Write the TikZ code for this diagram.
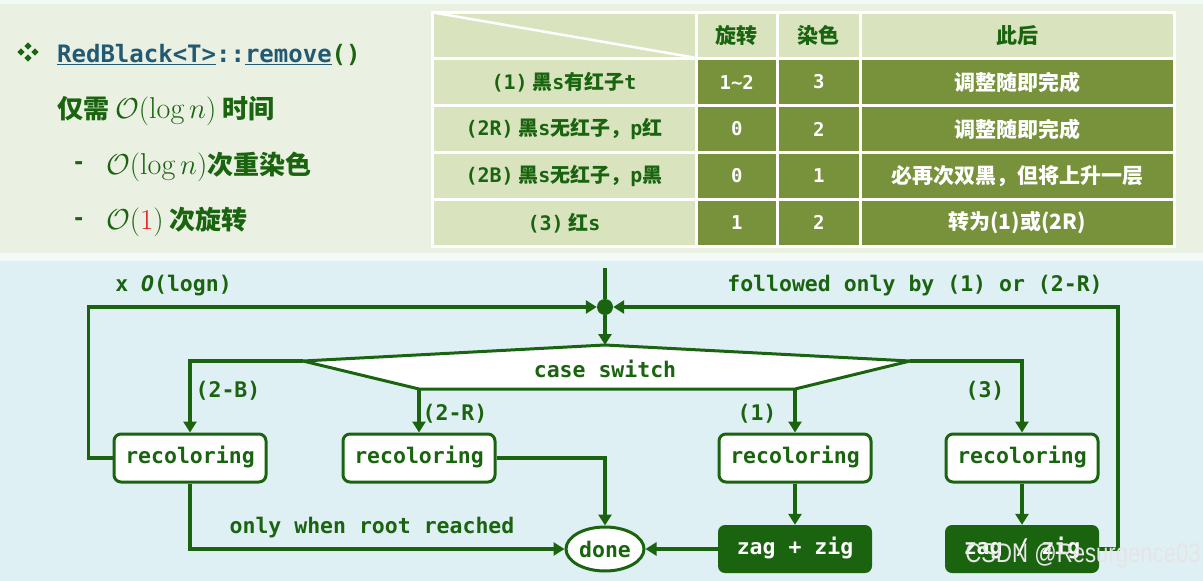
\documentclass[tikz,border=0pt]{standalone}
\usepackage{fontspec}
\setmonofont{DejaVu Sans Mono}
\newfontfamily\cjk{Noto Sans CJK SC}
\newfontfamily\wmfont{Liberation Sans}
\usetikzlibrary{arrows.meta,shapes.geometric}
\definecolor{dg}{RGB}{26,100,16}
\definecolor{tealt}{RGB}{35,90,115}
\definecolor{lol}{RGB}{217,227,190}
\definecolor{dol}{RGB}{119,146,59}
\definecolor{tbg}{RGB}{235,241,226}
\definecolor{bbg}{RGB}{223,240,245}
\definecolor{gapc}{RGB}{242,250,246}
\definecolor{redm}{RGB}{225,30,30}
\newcommand\myfs[1]{\fontsize{#1}{#1}\selectfont}
\newcommand\scmath[1]{\scalebox{1.16}{$#1$}}
\tikzset{
  ln/.style={draw=dg,line width=3.5pt},
  ar/.style={ln,-{Triangle[length=11pt,width=13pt]}},
  chart/.style={font=\ttfamily\bfseries\myfs{21.5}},
  recol/.style={chart,draw=dg,line width=3pt,fill=white,rounded corners=7pt,minimum width=152pt,minimum height=48pt,inner sep=0pt,text=dg,text height=15pt,text depth=4pt},
  zz/.style={chart,fill=dg,rounded corners=7pt,minimum width=154pt,minimum height=48pt,inner sep=0pt,text=white,text height=15pt,text depth=4pt},
  donest/.style={chart,ellipse,draw=dg,line width=3pt,fill=white,minimum width=78pt,minimum height=44pt,inner sep=0pt,text=dg},
  lbl/.style={chart,text=dg,inner sep=0pt,anchor=base},
  hd/.style={font=\cjk\bfseries\myfs{21},text=dg,inner sep=0pt},
  lc/.style={font=\cjk\bfseries\myfs{20},text=dg,inner sep=0pt},
  bd/.style={font=\ttfamily\bfseries\myfs{19},text=white,inner sep=0pt},
  bc/.style={font=\cjk\bfseries\myfs{21},text=white,inner sep=0pt},
  cellL/.style={fill=lol,draw=white,line width=3pt},
  cellD/.style={fill=dol,draw=white,line width=3pt},
  lefttxt/.style={inner sep=0pt,text=dg},
}
\begin{document}
\begin{tikzpicture}[x=1pt,y=-1pt]
\useasboundingbox (0,0) rectangle (1203,581);
% backgrounds
\fill[gapc] (0,0) rectangle (1203,581);
\fill[tbg] (0,4) rectangle (1203,253);
\fill[bbg] (0,261) rectangle (1203,581);

% ---------- left text ----------
\foreach \cx/\cy in {28/46,21/52,35/52,28/58}
  \fill[dg] (\cx,\cy-3.6) -- (\cx+3.6,\cy) -- (\cx,\cy+3.6) -- (\cx-3.6,\cy) -- cycle;
\node[anchor=base west,inner sep=0pt,font=\ttfamily\bfseries\myfs{24},text=tealt] (title) at (57,62)
  {\underline{RedBlack<T>}::\underline{remove}\textcolor{dg}{()}};
\node[anchor=base west,lefttxt,font=\cjk\bfseries\myfs{26}] (l1) at (57,118) {仅需 \scmath{\mathcal{O}(\log n)} 时间};
\node[anchor=west,lefttxt,font=\ttfamily\bfseries\myfs{22}] (d1) at (72,166) {-};
\node[anchor=base west,lefttxt,font=\cjk\bfseries\myfs{26}] (l2) at (106,174) {\scmath{\mathcal{O}(\log n)}次重染色};
\node[anchor=west,lefttxt,font=\ttfamily\bfseries\myfs{22}] (d2) at (72,222) {-};
\node[anchor=base west,lefttxt,font=\cjk\bfseries\myfs{26}] (l3) at (106,229) {\scmath{\mathcal{O}(\textcolor{redm}{1})} 次旋转};

% ---------- table ----------
\path[cellL] (432,12) rectangle (696,58.5);
\path[cellL] (696,12) rectangle (777.5,58.5);
\path[cellL] (777.5,12) rectangle (860,58.5);
\path[cellL] (860,12) rectangle (1174,58.5);
\foreach \ya/\yb in {58.5/105.5,105.5/152.5,152.5/199.5,199.5/246}{
  \path[cellL] (432,\ya) rectangle (696,\yb);
  \path[cellD] (696,\ya) rectangle (777.5,\yb);
  \path[cellD] (777.5,\ya) rectangle (860,\yb);
  \path[cellD] (860,\ya) rectangle (1174,\yb);
}
\draw[white,line width=2.5pt] (433,12.5) -- (694,57.5);
\node[hd] (h2) at (736.75,35.25) {旋转};
\node[hd] (h3) at (818.75,35.25) {染色};
\node[hd] (h4) at (1017,35.25) {此后};
\node[lc] (a1) at (564,82) {{\ttfamily (1)} 黑{\ttfamily s}有红子{\ttfamily t}};
\node[lc] (b1) at (564,129) {{\ttfamily (2R)} 黑{\ttfamily s}无红子，{\ttfamily p}红};
\node[lc] (c1) at (564,176) {{\ttfamily (2B)} 黑{\ttfamily s}无红子，{\ttfamily p}黑};
\node[lc] (e1) at (564,222.75) {{\ttfamily (3)} 红{\ttfamily s}};
\node[bd] (a2) at (736.75,82) {1\textasciitilde2};
\node[bd] (a3) at (818.75,82) {3};
\node[bc] (a4) at (1017,82) {调整随即完成};
\node[bd] (b2) at (736.75,129) {0};
\node[bd] (b3) at (818.75,129) {2};
\node[bc] (b4) at (1017,129) {调整随即完成};
\node[bd] (c2) at (736.75,176) {0};
\node[bd] (c3) at (818.75,176) {1};
\node[bc] (c4) at (1017,176) {必再次双黑，但将上升一层};
\node[bd] (e2) at (736.75,222.75) {1};
\node[bd] (e3) at (818.75,222.75) {2};
\node[bc] (e4) at (1017,222.75) {转为(1)或(2R)};

% ---------- flowchart ----------
\coordinate (jtop) at (605,268);
\node[circle,fill=dg,minimum size=16pt,inner sep=0pt] (j) at (605,307) {};
\coordinate (swL) at (303,361);
\coordinate (swT) at (605,345);
\coordinate (swR) at (910,361);
\coordinate (swBR) at (795,389);
\coordinate (swBL) at (419,389);
\filldraw[fill=white,draw=dg,line width=3pt,line join=miter] (swL) -- (swT) -- (swR) -- (swBR) -- (swBL) -- cycle;
\node[lbl] (sw) at (605,377) {case switch};

\node[recol] (r1) at (190,458) {recoloring};
\node[recol] (r2) at (419,458) {recoloring};
\node[recol] (r3) at (795,458) {recoloring};
\node[recol] (r4) at (1022,458) {recoloring};
\node[zz] (z1) at (795,549) {zag + zig};
\node[zz] (z2) at (1022,549) {zag / zig};
\node[donest] (done) at (605,549) {done};

\draw[ln] (jtop) -- (j);
\draw[ar] (j) -- (swT);
\draw[ar] (r1.west) -- ++(-24,0) |- (j);
\draw[ar] (z2.east) -- ++(19,0) |- (j);
\draw[ar] (swL) -| (r1.north);
\draw[ar] (swBL) -- (r2.north);
\draw[ar] (swBR) -- (r3.north);
\draw[ar] (swR) -| (r4.north);
\draw[ar] (r1.south) |- (done.west);
\draw[ar] (r2.east) -| (done.north);
\draw[ar] (z1.west) -- (done.east);
\draw[ar] (r3) -- (z1);
\draw[ar] (r4) -- (z2);

\node[lbl] (lx) at (173.5,291) {x \textit{O}(logn)};
\node[lbl] (lf) at (915,291) {followed only by (1) or (2-R)};
\node[lbl] (l2b) at (228,397) {(2-B)};
\node[lbl] (l2r) at (455,420) {(2-R)};
\node[lbl] (l1c) at (757,420) {(1)};
\node[lbl] (l3c) at (985,397) {(3)};
\node[lbl] (lroot) at (372,533) {only when root reached};

\node[anchor=east,font=\wmfont\myfs{27},text=white!80!gray,inner sep=0pt] (wm) at (1201,556) {\scalebox{0.82}[1]{CSDN @Resurgence03}};
\end{tikzpicture}
\end{document}
